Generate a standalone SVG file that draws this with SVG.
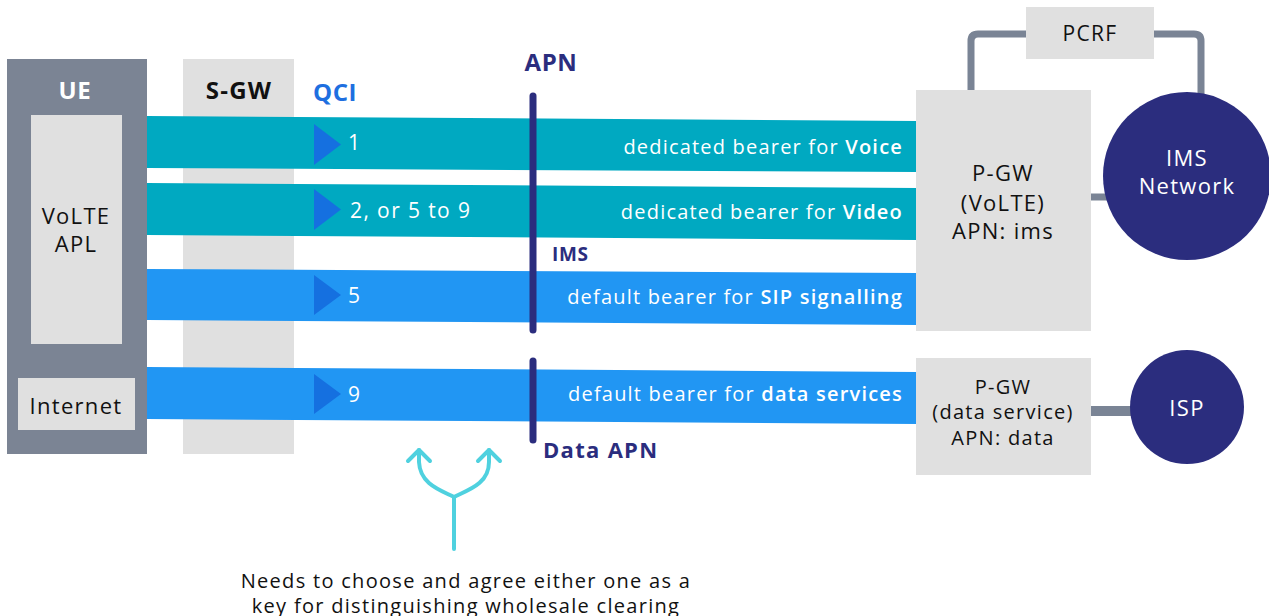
<svg xmlns="http://www.w3.org/2000/svg" width="1269" height="616" viewBox="0 0 1269 616">
<style>
text{font-family:"Open Sans","Noto Sans",sans-serif;dominant-baseline:central;letter-spacing:1.3px}
.w{fill:#ffffff}
.k{fill:#111111}
.n{fill:#2b2d7e;font-weight:bold}
.b{font-weight:bold}
.sb{font-weight:600}
.t{letter-spacing:0.6px}
.lbl{fill:#ffffff;font-size:20px;text-anchor:end;letter-spacing:1.2px}
.q{fill:#ffffff;font-size:21px;letter-spacing:1.4px}
.gray{fill:#e0e0e0}
.teal{fill:#00a9c1}
.blue{fill:#2196f3}
.tri{fill:#1570e0}
.conn{stroke:#7a8495;fill:none;stroke-linejoin:round}
.c{text-anchor:middle}
</style>
<rect width="1269" height="616" fill="#ffffff"/>
<g id="ue">
<rect x="7" y="59" width="140" height="395" fill="#7b8494"/>
<text x="75" y="89" class="w b c t" font-size="24">UE</text>
</g>
<g id="volte-apl">
<rect x="31" y="115" width="91" height="229" class="gray"/>
<text x="76" y="215" class="k c" font-size="22" letter-spacing="2">VoLTE</text>
<text x="76" y="243" class="k c" font-size="22" letter-spacing="2">APL</text>
</g>
<g id="internet">
<rect x="18" y="378" width="117" height="52" class="gray"/>
<text x="76" y="405" class="k c" font-size="22">Internet</text>
</g>
<g id="sgw">
<rect x="183" y="59" width="111" height="395" class="gray"/>
<text x="239" y="89" class="k b c" font-size="24" letter-spacing="2.4">S-GW</text>
</g>
<g id="pcrf">
<rect x="1026" y="7" width="128" height="52" class="gray"/>
<text x="1090" y="33" class="k c" font-size="21">PCRF</text>
</g>
<g id="connectors">
<path class="conn" stroke-width="7" d="M971 92 V41 Q971 34 978 34 H1026"/>
<path class="conn" stroke-width="7" d="M1154 34 H1194 Q1201 34 1201 41 V96"/>
<path class="conn" stroke-width="7" d="M1091 197 H1110"/>
<path class="conn" stroke-width="10" d="M1091 411 H1134"/>
<g fill="none" stroke="#4fd1df" stroke-width="4" stroke-linecap="round" stroke-linejoin="round">
<path d="M454 549 V497 C440 490 420 484 419 462 V450"/>
<path d="M454 497 C468 490 489 484 489 462 V450"/>
<path d="M408 461 L419 450 L430 461"/>
<path d="M478 461 L489 450 L500 461"/>
</g>
</g>
<g id="bearer-voice">
<polygon points="147,116 917,121 917,172 147,168" class="teal"/>
<polygon points="314,124 341,144.5 314,165" class="tri"/>
<text x="348" y="142" class="q">1</text>
<text x="903" y="146" class="lbl">dedicated bearer for <tspan class="sb">Voice</tspan></text>
</g>
<g id="bearer-video">
<polygon points="147,183 917,188 917,240 147,235" class="teal"/>
<polygon points="314,189 341,209.5 314,230" class="tri"/>
<text x="350" y="210" class="q">2, or 5 to 9</text>
<text x="903" y="211" class="lbl">dedicated bearer for <tspan class="sb">Video</tspan></text>
</g>
<g id="bearer-sip">
<polygon points="147,269 917,273 917,325 147,320" class="blue"/>
<polygon points="314,275 341,295 314,315" class="tri"/>
<text x="348" y="295" class="q">5</text>
<text x="903" y="296" class="lbl">default bearer for <tspan class="sb">SIP signalling</tspan></text>
</g>
<g id="bearer-data">
<polygon points="147,367 917,372 917,424 147,419" class="blue"/>
<polygon points="314,374 341,394 314,414" class="tri"/>
<text x="348" y="394" class="q">9</text>
<text x="903" y="393" class="lbl">default bearer for <tspan class="sb">data services</tspan></text>
</g>
<g id="qci">
<text x="313" y="91" fill="#1e6fe0" class="b t" font-size="24">QCI</text>
</g>
<g id="apn-ims">
<line x1="533" y1="96" x2="533" y2="330" stroke="#2b2d7e" stroke-width="7" stroke-linecap="round"/>
<text x="551" y="61" class="n c t" font-size="24">APN</text>
<text x="552" y="254" class="n t" font-size="19">IMS</text>
</g>
<g id="apn-data">
<line x1="533" y1="361" x2="533" y2="440" stroke="#2b2d7e" stroke-width="7" stroke-linecap="round"/>
<text x="543" y="449" class="n" font-size="22">Data APN</text>
</g>
<g id="pgw-volte">
<rect x="916" y="90" width="175" height="241" class="gray"/>
<text x="1003" y="172" class="k c" font-size="22" letter-spacing="1.6">P-GW</text>
<text x="1003" y="202" class="k c" font-size="22" letter-spacing="1.6">(VoLTE)</text>
<text x="1003" y="230" class="k c" font-size="22" letter-spacing="1.6">APN: ims</text>
</g>
<g id="pgw-data">
<rect x="916" y="358" width="175" height="117" class="gray"/>
<text x="1003" y="386" class="k c" font-size="20" letter-spacing="1.5">P-GW</text>
<text x="1003" y="411" class="k c" font-size="20" letter-spacing="1.5">(data service)</text>
<text x="1003" y="437" class="k c" font-size="20" letter-spacing="1.5">APN: data</text>
</g>
<g id="ims-network">
<circle cx="1187" cy="176" r="84" fill="#2b2d7e"/>
<text x="1187" y="157" class="w c" font-size="22" letter-spacing="1.6">IMS</text>
<text x="1187" y="185" class="w c" font-size="22" letter-spacing="1.6">Network</text>
</g>
<g id="isp">
<circle cx="1187" cy="407" r="57" fill="#2b2d7e"/>
<text x="1187" y="407" class="w c" font-size="22">ISP</text>
</g>
<g id="note">
<text x="466" y="580" class="k c" font-size="20">Needs to choose and agree either one as a</text>
<text x="466" y="605" class="k c" font-size="20">key for distinguishing wholesale clearing</text>
</g>
</svg>
